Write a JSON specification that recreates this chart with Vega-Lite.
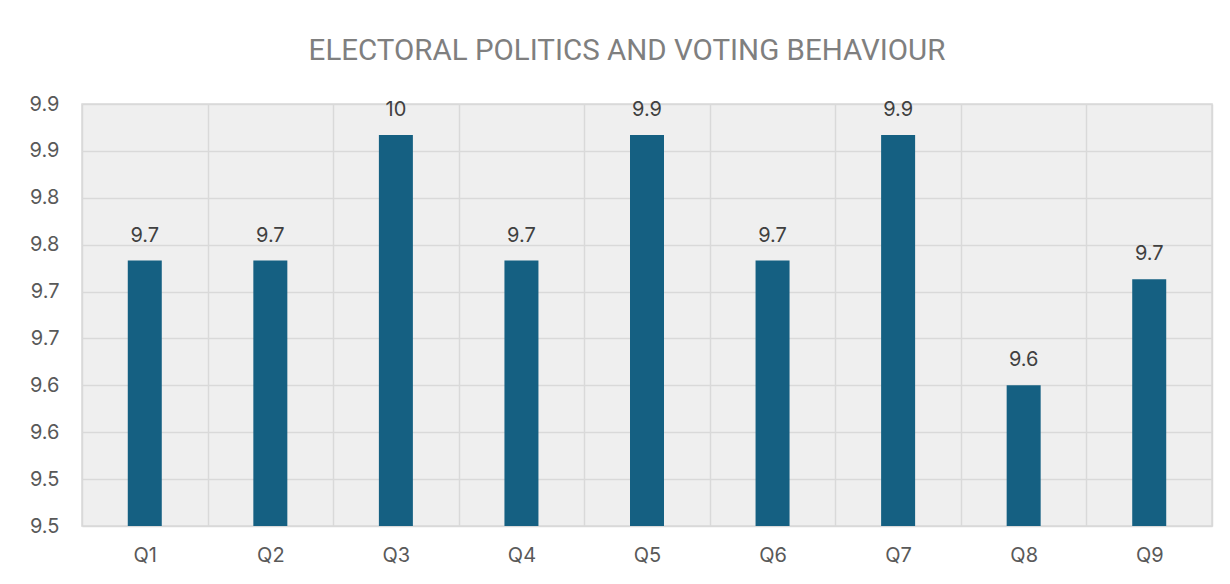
{
  "$schema": "https://vega.github.io/schema/vega-lite/v6.json",
  "width": 1130,
  "height": 422,
  "autosize": {"type": "none"},
  "padding": {"left": 82, "top": 104, "right": 18, "bottom": 58},
  "background": "white",
  "title": {
    "text": "ELECTORAL POLITICS AND VOTING BEHAVIOUR",
    "font": "Roboto",
    "fontSize": 29.5,
    "fontWeight": "normal",
    "color": "#7f7f7f",
    "anchor": "middle",
    "dx": -20,
    "offset": 5,
    "baseline": "alphabetic"
  },
  "config": {
    "view": {"stroke": "#d9d9d9", "strokeWidth": 1.5, "fill": "#efefef"},
    "axis": {"labelFont": "Inter", "gridColor": "#d9d9d9", "gridWidth": 1.5}
  },
  "data": {
    "values": [
      {"q": "Q1", "value": 9.733, "label": "9.7"},
      {"q": "Q2", "value": 9.733, "label": "9.7"},
      {"q": "Q3", "value": 9.867, "label": "10"},
      {"q": "Q4", "value": 9.733, "label": "9.7"},
      {"q": "Q5", "value": 9.867, "label": "9.9"},
      {"q": "Q6", "value": 9.733, "label": "9.7"},
      {"q": "Q7", "value": 9.867, "label": "9.9"},
      {"q": "Q8", "value": 9.6, "label": "9.6"},
      {"q": "Q9", "value": 9.713, "label": "9.7"}
    ]
  },
  "encoding": {
    "x": {
      "field": "q",
      "type": "nominal",
      "sort": null,
      "scale": {"paddingInner": 0, "paddingOuter": 0},
      "axis": {
        "title": null,
        "labelAngle": 0,
        "labelPadding": 19,
        "labelFontSize": 20,
        "labelColor": "#595959",
        "ticks": false,
        "tickSize": 0,
        "domain": false,
        "grid": true,
        "tickBand": "extent"
      }
    }
  },
  "layer": [
    {
      "mark": {"type": "bar", "size": 34, "color": "#156082"},
      "encoding": {
        "y": {
          "field": "value",
          "type": "quantitative",
          "scale": {"domain": [9.45, 9.9], "zero": false, "nice": false},
          "axis": {
            "title": null,
            "values": [9.45, 9.5, 9.55, 9.6, 9.65, 9.7, 9.75, 9.8, 9.85, 9.9],
            "labelExpr": "format(round(datum.value*10+0.0001)/10, '.1f')",
            "labelPadding": 23,
            "labelFontSize": 20,
            "labelColor": "#595959",
            "ticks": false,
            "domain": false,
            "grid": true
          }
        },
        "y2": {"datum": 9.45}
      }
    },
    {
      "mark": {"type": "text", "dy": -19, "baseline": "alphabetic", "fontSize": 20, "color": "#404040", "font": "Inter"},
      "encoding": {
        "y": {"field": "value", "type": "quantitative"},
        "text": {"field": "label"}
      }
    }
  ]
}
